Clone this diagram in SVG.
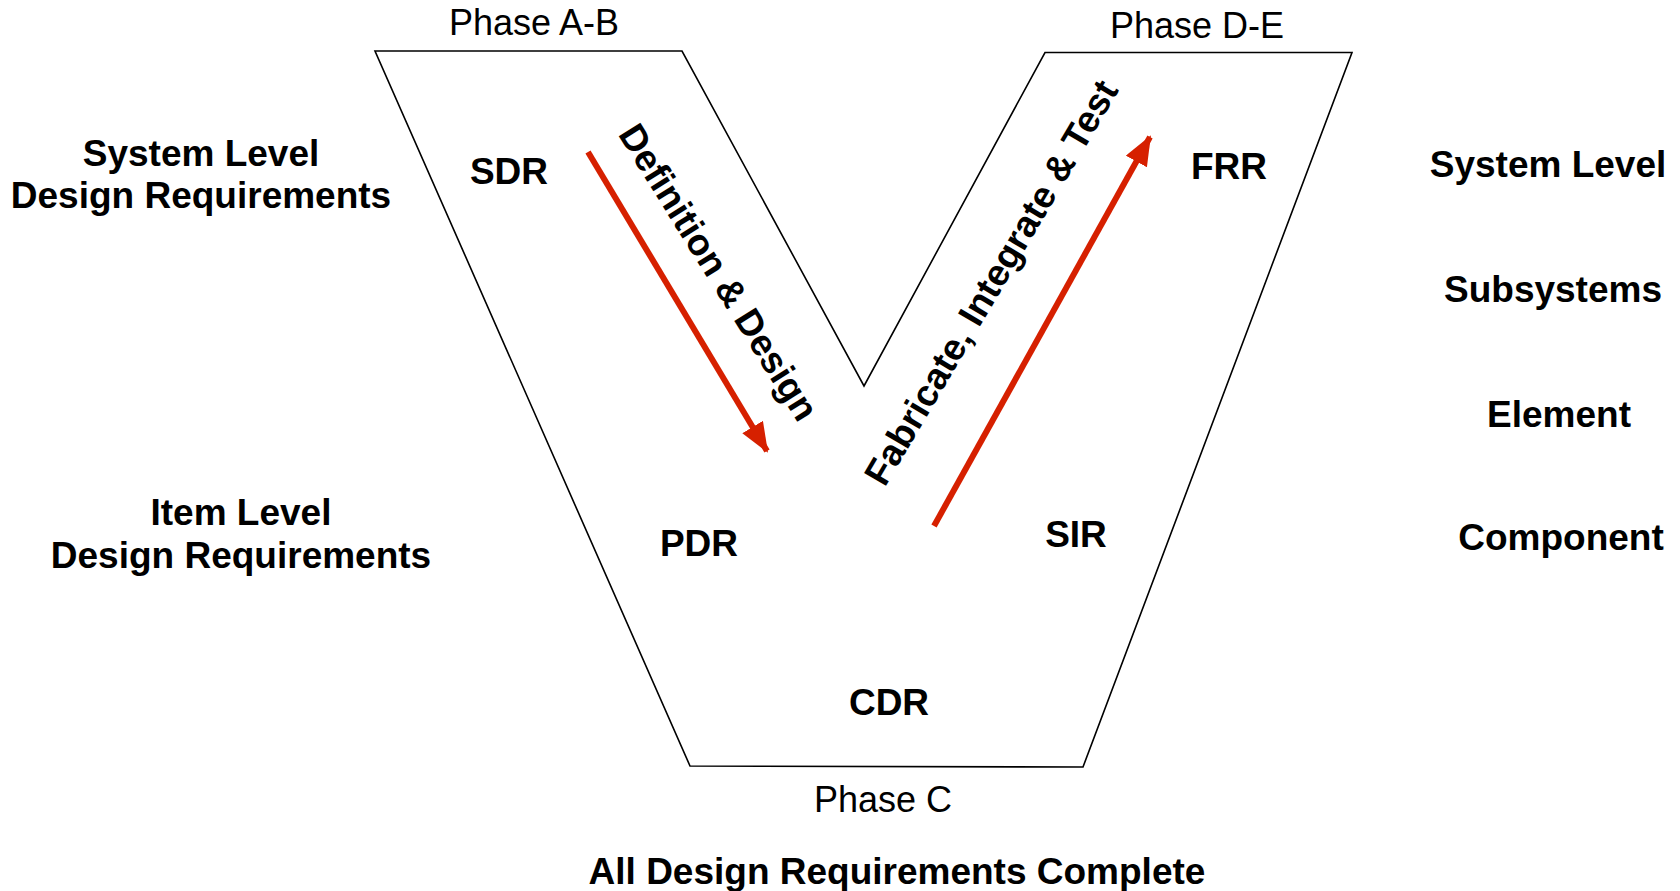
<svg xmlns="http://www.w3.org/2000/svg" width="1680" height="891" viewBox="0 0 1680 891">
<defs>
<style>
.reg{font-family:"Liberation Sans",Arial,sans-serif;font-size:36px;fill:#000}
.bold{font-family:"Liberation Sans",Arial,sans-serif;font-size:37px;font-weight:bold;fill:#000}
.mid{text-anchor:middle}
.outline{fill:none;stroke:#000;stroke-width:1.6;stroke-linejoin:miter}
.flow{fill:none;stroke:#D62000;stroke-width:6}
</style>
<marker id="ah" markerUnits="userSpaceOnUse" markerWidth="34" markerHeight="26" refX="28" refY="12" orient="auto">
<path d="M0,0 L30,12 L0,24 Z" fill="#D62000"/>
</marker>
</defs>
<rect width="1680" height="891" fill="#fff"/>
<g id="vee">
<polygon class="outline" points="375,51 682,51 864,386 1045,52.5 1352,52.5 1083,767 690,766"/>
</g>
<g id="phases">
<text class="reg mid" x="534" y="35">Phase A-B</text>
<text class="reg mid" x="1197" y="38">Phase D-E</text>
<text class="reg mid" x="883" y="812">Phase C</text>
</g>
<g id="reviews">
<text id="sdr" class="bold mid" x="509" y="184">SDR</text>
<text id="pdr" class="bold mid" x="699" y="556">PDR</text>
<text id="cdr" class="bold mid" x="889" y="715">CDR</text>
<text id="sir" class="bold mid" x="1076" y="547">SIR</text>
<text id="frr" class="bold mid" x="1229" y="179">FRR</text>
</g>
<g id="left-labels">
<text class="bold mid" x="201" y="166">System Level</text>
<text class="bold mid" x="201" y="208">Design Requirements</text>
<text class="bold mid" x="241" y="525">Item Level</text>
<text class="bold mid" x="241" y="568">Design Requirements</text>
</g>
<g id="right-labels">
<text class="bold mid" x="1548" y="177">System Level</text>
<text class="bold mid" x="1553" y="302">Subsystems</text>
<text class="bold mid" x="1559" y="427">Element</text>
<text class="bold mid" x="1561" y="550">Component</text>
</g>
<g id="footer">
<text class="bold mid" x="897" y="884">All Design Requirements Complete</text>
</g>
<g id="connectors">
<line class="flow" x1="588" y1="152" x2="767" y2="451" marker-end="url(#ah)"/>
<line class="flow" x1="934" y1="526" x2="1150" y2="137" marker-end="url(#ah)"/>
</g>
<g id="flow-labels">
<text class="bold mid" transform="translate(708,279) rotate(58)">Definition &amp; Design</text>
<text class="bold mid" transform="translate(1002,289) rotate(-59.5)">Fabricate, Integrate &amp; Test</text>
</g>
</svg>
